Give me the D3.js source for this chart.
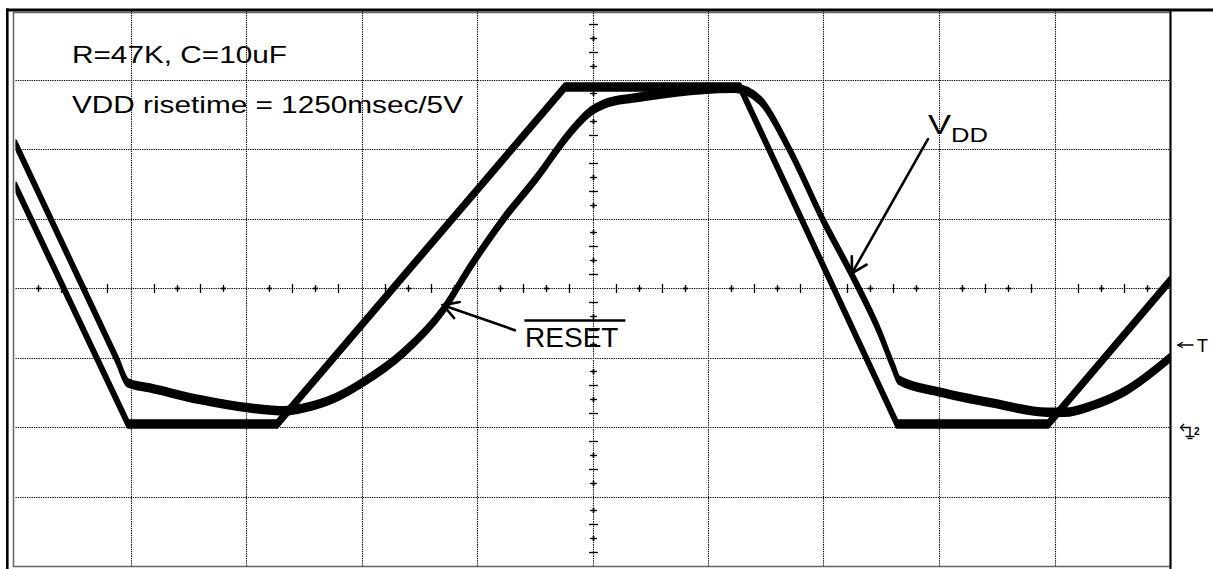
<!DOCTYPE html>
<html>
<head>
<meta charset="utf-8">
<script src="https://cdn.jsdelivr.net/npm/d3@7"></script>
<style>
body { margin: 0; background: #fff; }
svg { display: block; }
text { font-family: "Liberation Sans", Arial, Helvetica, sans-serif; fill: #000; }
</style>
</head>
<body>
<svg id="chart" width="1213" height="569"></svg>
<script>
// Scope shot: 0.5 s/div across 10 divs, 1 V/div over 8 divs, ground marker = 0 V
// VDD (trapezoid) - time in s, volts
var vddTime  = [0, 0.487, 1.132, 2.379, 3.136, 3.816, 4.470, 5.0];
var vddVolts = [3.47, 0.05, 0.05, 4.90, 4.90, 0.05, 0.05, 2.12];

// RESET (RC delayed, diode clamped on the way down)
var resetTime  = [0, 0.44, 0.487, 0.582, 0.799, 1.015, 1.167, 1.245, 1.392, 1.504,
                  1.677, 1.851, 1.968, 2.110, 2.258, 2.400, 2.487, 2.561, 2.673, 2.820,
                  2.963, 3.114, 3.223, 3.352, 3.495, 3.625, 3.742, 3.800, 3.825, 4.002,
                  4.232, 4.465, 4.543, 4.665, 4.812, 5.0];
var resetVolts = [4.08, 0.97, 0.64, 0.57, 0.40, 0.28, 0.24, 0.28, 0.44, 0.65,
                  1.07, 1.69, 2.31, 2.99, 3.60, 4.24, 4.54, 4.67, 4.74, 4.81,
                  4.86, 4.88, 4.71, 3.99, 2.99, 2.17, 1.36, 0.87, 0.68, 0.51,
                  0.35, 0.22, 0.22, 0.32, 0.54, 1.01];

var noteLines = ["R=47K, C=10uF", "VDD risetime = 1250msec/5V"];

var width = 1213, height = 569;
// (window.top is read-only, so no bare "top" here)
var plotLeft = 15.5, plotRight = 1170.5, plotTop = 10.5, plotBottom = 566.5;

var x = d3.scaleLinear().domain([0, 5]).range([plotLeft, plotRight]);
var y = d3.scaleLinear().domain([-2, 6]).range([plotBottom, plotTop]);

var svg = d3.select("#chart");

// snap to half pixels so the dotted grid stays crisp
function px(v) { return Math.round(v - 0.5) + 0.5; }

// Grid
var grid = svg.append("g")
    .attr("stroke", "#000")
    .attr("stroke-width", 1.1)
    .attr("stroke-dasharray", "1.3,1");

d3.range(1, 10).forEach(function(k) {
    var gx = px(x(k * 0.5));
    grid.append("line").attr("x1", gx).attr("x2", gx).attr("y1", plotTop).attr("y2", plotBottom);
});
d3.range(-1, 6).forEach(function(v) {
    var gy = px(y(v));
    grid.append("line").attr("x1", plotLeft).attr("x2", plotRight).attr("y1", gy).attr("y2", gy);
});

// Minor ticks on the centre cross (5 per division)
var ticks = svg.append("g").attr("stroke", "#000").attr("stroke-width", 1.3);
var cy = px(y(2)), cx = px(x(2.5));
d3.range(1, 50).forEach(function(i) {
    if (i % 5 === 0) return;
    var tx = px(x(i * 0.1));
    if (i % 2 === 1) {
        ticks.append("line").attr("x1", tx).attr("x2", tx).attr("y1", cy - 3.5).attr("y2", cy + 3.5);
        ticks.append("line").attr("x1", tx - 2.5).attr("x2", tx + 2.5).attr("y1", cy).attr("y2", cy)
            .attr("stroke-width", 1.8);
    } else {
        ticks.append("line").attr("x1", tx).attr("x2", tx).attr("y1", cy - 4.5).attr("y2", cy + 4.5);
    }
});
d3.range(1, 40).forEach(function(j) {
    if (j % 5 === 0) return;
    var ty = px(y(-2 + j * 0.2));
    if (j % 2 === 1) {
        ticks.append("line").attr("x1", cx - 4.5).attr("x2", cx + 4.5).attr("y1", ty).attr("y2", ty);
    } else {
        ticks.append("line").attr("x1", cx - 3.5).attr("x2", cx + 3.5).attr("y1", ty).attr("y2", ty);
        ticks.append("line").attr("x1", cx).attr("x2", cx).attr("y1", ty - 2.5).attr("y2", ty + 2.5)
            .attr("stroke-width", 1.8);
    }
});

// Traces: noisy scope lines drawn as a thin vertical band plus an outline
var halfBand = 3;
svg.append("clipPath").attr("id", "plotclip")
    .append("rect").attr("x", plotLeft).attr("y", plotTop)
    .attr("width", plotRight - plotLeft).attr("height", plotBottom - plotTop);

function trace(times, volts, curve) {
    var pts = times.map(function(t, i) { return [t, volts[i]]; });
    var band = d3.area()
        .x(function(d) { return x(d[0]); })
        .y0(function(d) { return y(d[1]) - halfBand; })
        .y1(function(d) { return y(d[1]) + halfBand; })
        .curve(curve);
    svg.append("path")
        .attr("d", band(pts))
        .attr("clip-path", "url(#plotclip)")
        .attr("fill", "#000")
        .attr("stroke", "#000")
        .attr("stroke-width", 3.4)
        .attr("stroke-linejoin", "round");
}

trace(vddTime, vddVolts, d3.curveLinear);
trace(resetTime, resetVolts, d3.curveMonotoneX);

// Frame
svg.append("rect").attr("x", 13.5).attr("y", 12.5)
    .attr("width", plotRight - 13.5).attr("height", plotBottom - 12.5)
    .attr("fill", "none").attr("stroke", "#666").attr("stroke-width", 1.5);
svg.append("line").attr("x1", plotRight).attr("x2", plotRight).attr("y1", 9).attr("y2", height)
    .attr("stroke", "#000").attr("stroke-width", 2);
svg.append("rect").attr("x", 6).attr("y", 8.5).attr("width", width - 6).attr("height", 3).attr("fill", "#000");
svg.append("rect").attr("x", 6).attr("y", 8.5).attr("width", 2.6).attr("height", height - 8.5).attr("fill", "#000");

// Notes top-left (the scope shot is stretched sideways, so are its labels)
svg.selectAll("text.note")
    .data(noteLines)
    .enter().append("text")
    .attr("class", "note")
    .attr("x", 72)
    .attr("y", function(d, i) { return 63 + i * 50; })
    .attr("font-size", 24.5)
    .attr("textLength", function(d, i) { return i === 0 ? 215 : 391; })
    .attr("lengthAdjust", "spacingAndGlyphs")
    .text(function(d) { return d; });

// Arrow helper (open head), ends given in pixels
function arrowPx(x0, y0, x1, y1, len, w) {
    var a = Math.atan2(y0 - y1, x0 - x1), spread = Math.PI / 6;
    var g = svg.append("g").attr("stroke", "#000").attr("stroke-width", w).attr("fill", "none")
        .attr("stroke-linecap", "round");
    g.append("line").attr("x1", x0).attr("y1", y0).attr("x2", x1).attr("y2", y1);
    g.append("path").attr("d", "M" + (x1 + len * Math.cos(a + spread)) + "," + (y1 + len * Math.sin(a + spread)) +
        "L" + x1 + "," + y1 +
        "L" + (x1 + len * Math.cos(a - spread)) + "," + (y1 + len * Math.sin(a - spread)));
}
function arrow(t0, v0, t1, v1) { arrowPx(x(t0), y(v0), x(t1), y(v1), 17, 2.6); }

// RESET label with overline
arrow(2.162, 1.40, 1.851, 1.76);
svg.append("text").attr("x", x(2.206)).attr("y", y(1.163)).attr("font-size", 28).text("RESET");
svg.append("line").attr("x1", x(2.203)).attr("x2", x(2.640)).attr("y1", 320.5).attr("y2", 320.5)
    .attr("stroke", "#000").attr("stroke-width", 2.5);

// VDD label
arrow(3.950, 4.15, 3.621, 2.22);
var vdd = svg.append("text").attr("x", 928).attr("y", 134).attr("font-size", 27)
    .attr("textLength", 60).attr("lengthAdjust", "spacingAndGlyphs");
vdd.append("tspan").text("V");
vdd.append("tspan").attr("dy", 8).attr("font-size", 20).text("DD");

// Trigger marker at the right edge
arrowPx(1193, 345, 1178, 345, 5, 1.3);
svg.append("text").attr("x", 1197).attr("y", 352).attr("font-size", 18).text("T");

// Channel ground marker (arrow + ground symbol + "2")
var gnd = svg.append("g").attr("stroke", "#000").attr("stroke-width", 1.4).attr("fill", "none");
var gy0 = y(0);
gnd.append("path").attr("d", "M1184," + (gy0 - 3.5) + "L1180.5," + gy0 + "L1184," + (gy0 + 3.5));
gnd.append("path").attr("d", "M1181," + gy0 + "H1190V" + (gy0 + 9));
gnd.append("path").attr("d", "M1185.5," + (gy0 + 9) + "H1194.5");
gnd.append("path").attr("d", "M1187.5," + (gy0 + 11) + "H1192.5");
svg.append("text").attr("x", 1194).attr("y", gy0 + 7).attr("font-size", 10).attr("font-weight", "bold").text("2");
</script>
</body>
</html>
